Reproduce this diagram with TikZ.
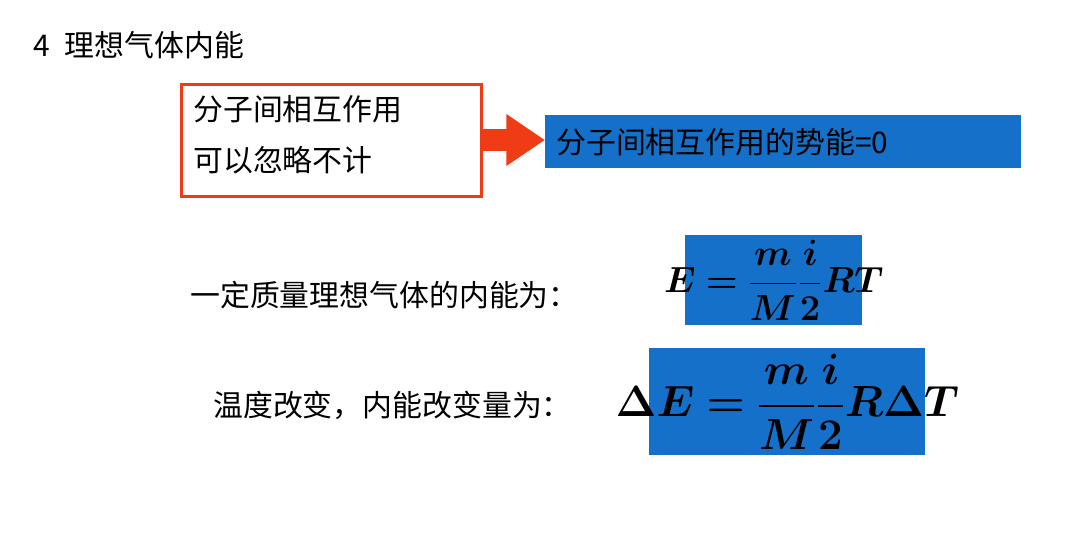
\documentclass[tikz,border=0pt]{standalone}
\usepackage{amsmath,amssymb,bm}
\usepackage{fontspec}
\setmainfont{Liberation Sans}
\newfontfamily\cjk{Noto Sans CJK SC}
\usetikzlibrary{positioning, arrows.meta}
\definecolor{slideblue}{HTML}{1470C8}
\definecolor{slidered}{HTML}{F03C14}
\tikzset{
  cjktext/.style={font=\cjk\fontsize{17}{25}\selectfont, inner sep=0pt},
  bluebox/.style={fill=slideblue, draw=none}
}
\begin{document}
\begin{tikzpicture}[x=0.02cm, y=-0.02cm]
\useasboundingbox (0,0) rectangle (1084,552);
% title
\node[cjktext, anchor=west] (title) at (33,45) {4\hspace{0.5em}理想气体内能};

% red box and arrow
\node[draw=slidered, line width=1.5pt, minimum width=300*0.02cm, minimum height=112*0.02cm, anchor=north west] (redbox) at (180,83) {};
\node[cjktext, anchor=north west, align=left] (redtext) at (193,95) {分子间相互作用\\[4pt]可以忽略不计};
\node[bluebox, minimum width=476*0.02cm, minimum height=53*0.02cm, anchor=north west] (potbox) at (545,115) {};
\node[cjktext, anchor=west] (pottext) at (556,142) {分子间相互作用的势能=0};
\draw[slidered, line width=12pt, -{Triangle[length=22pt,width=28pt]}] (redbox.east |- 0,140) -- (potbox.west |- 0,140);

% energy formula
\node[cjktext, anchor=west] (elabel) at (190,295) {一定质量理想气体的内能为：};
\node[bluebox, minimum width=177*0.02cm, minimum height=90*0.02cm, anchor=north west] (ebox) at (685,235) {};
\node[font=\fontsize{20}{24}\selectfont] (eform) at (ebox.center) {$\bm{E=\dfrac{m}{M}\dfrac{i}{2}RT}$};

% change formula
\node[cjktext, anchor=west] (dlabel) at (213,405) {温度改变，内能改变量为：};
\node[bluebox, minimum width=276*0.02cm, minimum height=107*0.02cm, anchor=north west] (dbox) at (649,348) {};
\node[font=\fontsize{25}{30}\selectfont] (dform) at (dbox.center) {$\bm{\Delta E=\dfrac{m}{M}\dfrac{i}{2}R\Delta T}$};
\end{tikzpicture}
\end{document}
